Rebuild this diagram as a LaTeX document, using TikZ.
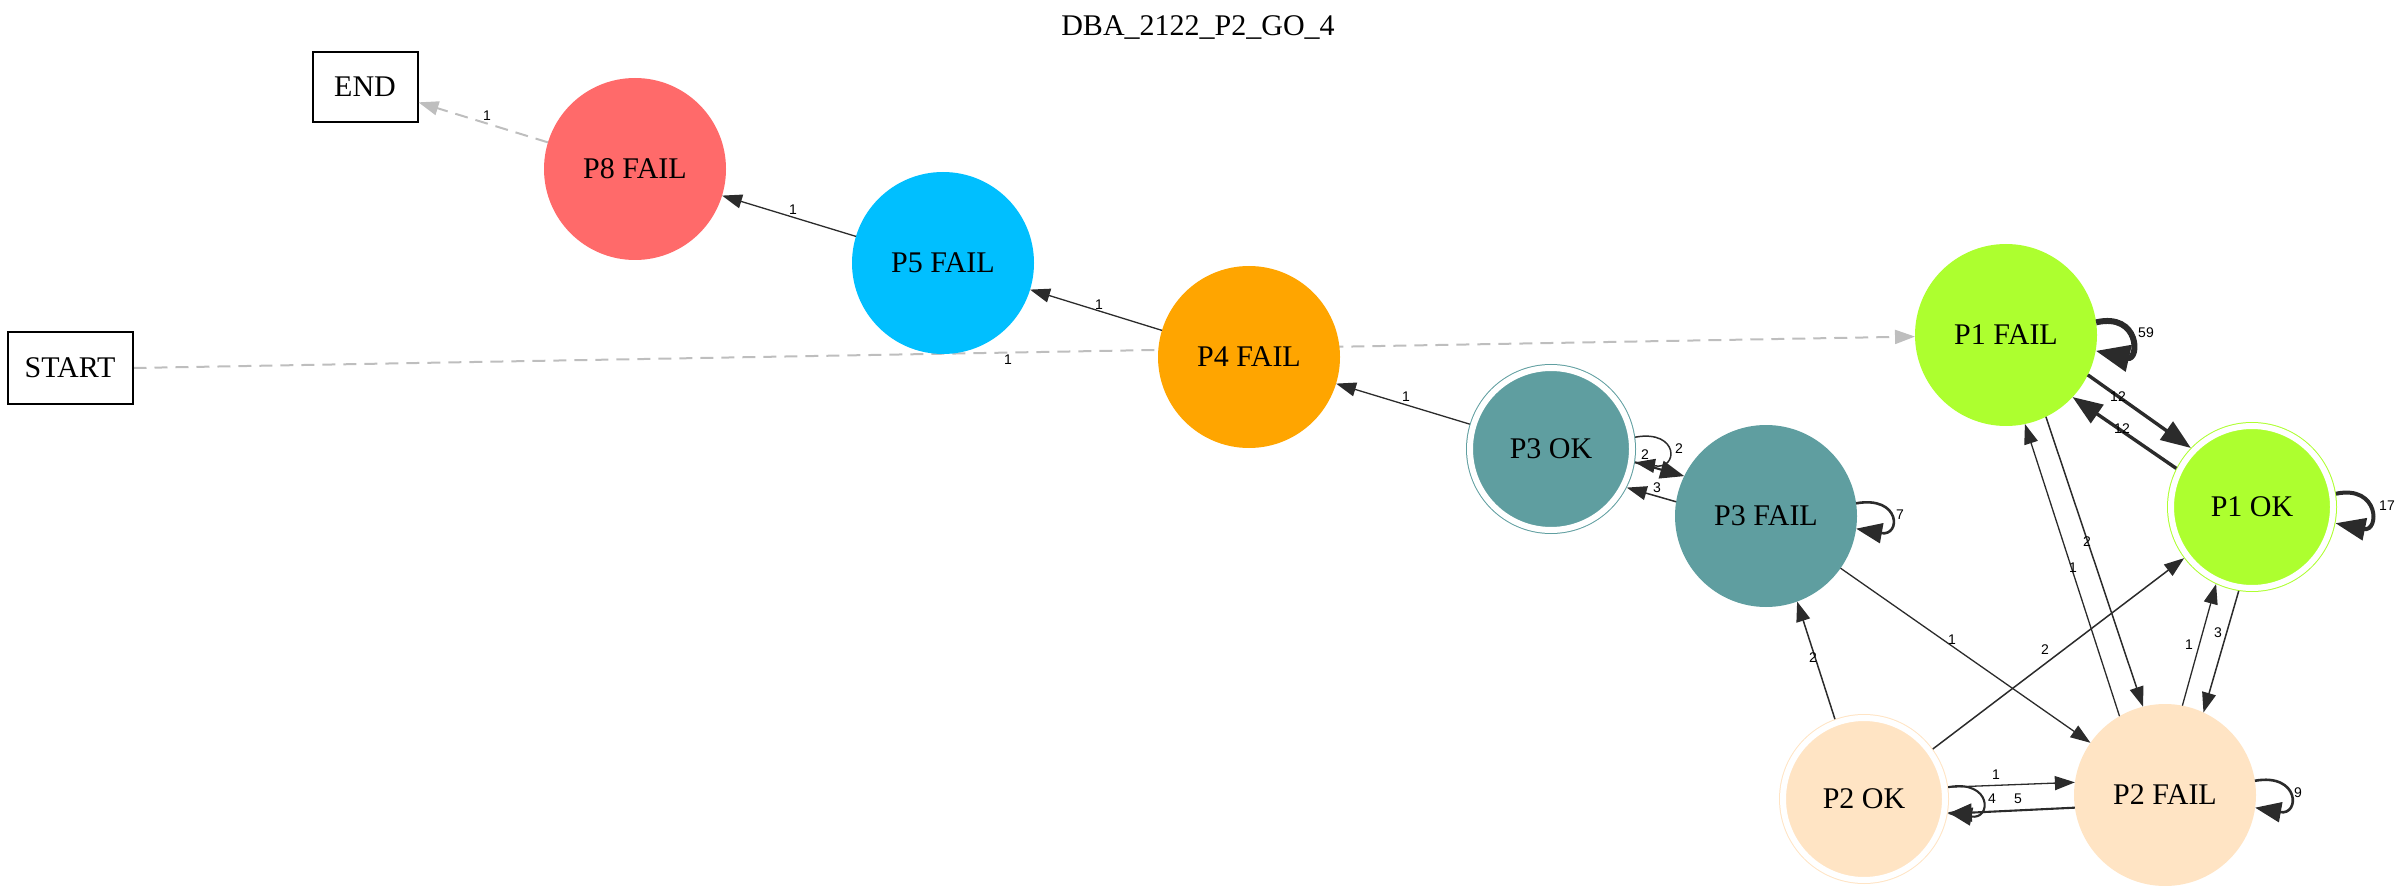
\documentclass[tikz,border=0pt]{standalone}
\usepackage{fontspec}
\setmainfont{Liberation Serif}
\newfontfamily\lblfont{Liberation Sans}
\usetikzlibrary{arrows.meta}
\pgfdeclarelayer{bg}
\pgfsetlayers{bg,main}
\definecolor{edgec}{HTML}{2B2B2B}
\definecolor{dgray}{HTML}{BEBEBE}
\definecolor{cadet}{HTML}{5F9EA0}
\definecolor{gyellow}{HTML}{ADFF2F}
\definecolor{bisq}{HTML}{FFE4C4}
\definecolor{orng}{HTML}{FFA500}
\definecolor{dsky}{HTML}{00BFFF}
\definecolor{ired}{HTML}{FF6A6A}
\begin{document}
\begin{tikzpicture}[x=0.5pt,y=-0.5pt,
  txt/.style={font=\fontsize{15}{18}\selectfont},
  st/.style={txt, circle, inner sep=0pt, outer sep=0pt, minimum size=91pt},
  fin/.style={txt, circle, inner sep=0pt, outer sep=2pt, minimum size=81pt, double=white, double distance=3pt, line width=0.5pt},
  box/.style={txt, rectangle, draw=black, line width=1pt, inner sep=0pt},
  lbl/.style={font=\lblfont\fontsize{7}{8}\selectfont, inner sep=0pt, text=black},
  ea/.style={draw=edgec, line width=0.65pt, -{Triangle[length=10pt,width=7pt]}},
  eb/.style={draw=edgec, line width=0.75pt, -{Triangle[length=10pt,width=7pt]}},
  ec/.style={draw=edgec, line width=1.05pt, -{Triangle[length=12pt,width=9pt]}},
  ed/.style={draw=edgec, line width=1.3pt, -{Triangle[length=13pt,width=10pt]}},
  ee/.style={draw=edgec, line width=1.7pt, -{Triangle[length=15pt,width=11pt]}},
  ef/.style={draw=edgec, line width=2pt, -{Triangle[length=15pt,width=11pt]}},
  eg/.style={draw=edgec, line width=3pt, -{Triangle[length=17pt,width=13pt]}},
  dsh/.style={draw=dgray, line width=1pt, dash pattern=on 6.5pt off 4pt, -{Triangle[length=10pt,width=7pt]}}
]
\useasboundingbox (0,0) rectangle (2400,893);

\node[txt] (title) at (1198,28) {DBA\_2122\_P2\_GO\_4};

\node[box, minimum width=52.5pt, minimum height=35pt] (endn) at (365,87) {END};
\node[box, minimum width=62.5pt, minimum height=35.5pt] (start) at (70,368) {START};

\node[st, fill=ired] (p8) at (635,169) {P8 FAIL};
\node[st, fill=dsky] (p5) at (943,263) {P5 FAIL};
\node[st, fill=orng] (p4) at (1249,357) {P4 FAIL};
\node[fin, fill=cadet, draw=cadet] (p3ok) at (1551,449) {P3 OK};
\node[st, fill=cadet] (p3f) at (1766,516) {P3 FAIL};
\node[st, fill=gyellow] (p1f) at (2006,335) {P1 FAIL};
\node[fin, fill=gyellow, draw=gyellow] (p1ok) at (2252,507) {P1 OK};
\node[fin, fill=bisq, draw=bisq] (p2ok) at (1864,799) {P2 OK};
\node[st, fill=bisq] (p2f) at (2165,795) {P2 FAIL};

% dashed
\begin{pgfonlayer}{bg}
\draw[dsh] (start.east) -- (p1f.181) node[lbl] at (1008,360) {1};
\end{pgfonlayer}
\draw[dsh] (p8.163) -- (endn.-16) node[lbl] at (487,116) {1};

% chain
\draw[ea] (p5.163) -- (p8.-17) node[lbl] at (793,210) {1};
\draw[ea] (p4.163) -- (p5.-17) node[lbl] at (1099,305) {1};
\draw[ea] (p3ok.163) -- (p4.-17) node[lbl] at (1406,397) {1};

% P3
\draw[eb] (p3ok.8) .. controls +(44,-8) and +(44,8) .. (p3ok.-9) node[lbl] at (1679,449) {2};
\draw[ec] (p3ok.-9) -- (p3f.154) node[lbl] at (1645,455) {2};
\draw[eb] (p3f.171) -- (p3ok.-27) node[lbl] at (1657,488) {3};
\draw[ed] (p3f.8) .. controls +(45,-8) and +(45,8) .. (p3f.-8) node[lbl] at (1900,515) {7};
\draw[ea] (p3f.-35) -- (p2f.145) node[lbl] at (1952,640) {1};

% P2
\draw[eb] (p2ok.110) -- (p3f.-70) node[lbl] at (1813,658) {2};
\draw[eb] (p2ok.36) -- (p1ok.-143) node[lbl] at (2045,650) {2};
\draw[ea] (p2ok.8) -- (p2f.172) node[lbl] at (1996,775) {1};
\draw[ec] (p2ok.8) .. controls +(44,-8) and +(44,8) .. (p2ok.-9) node[lbl] at (1992,799) {4};
\draw[ec] (p2f.-172) -- (p2ok.-10) node[lbl] at (2018,799) {5};
\draw[ed] (p2f.9) .. controls +(45,-8) and +(45,8) .. (p2f.-8) node[lbl] at (2298,793) {9};

% P1
\draw[eb] (p1f.-64) -- (p2f.104) node[lbl] at (2087,542) {2};
\draw[ea] (p2f.120) -- (p1f.-78) node[lbl] at (2073,568) {1};
\draw[ea] (p2f.79) -- (p1ok.-115) node[lbl] at (2189,645) {1};
\draw[eb] (p1ok.-99) -- (p2f.65) node[lbl] at (2218,633) {3};
\draw[ee] (p1f.-26) -- (p1ok.136) node[lbl] at (2118,397) {12};
\draw[ee] (p1ok.153) -- (p1f.-43) node[lbl] at (2122,429) {12};
\draw[eg] (p1f.8) .. controls +(44,-10) and +(44,10) .. (p1f.-10) node[lbl] at (2146,333) {59};
\draw[ef] (p1ok.9) .. controls +(44,-9) and +(44,9) .. (p1ok.-11) node[lbl] at (2387,506) {17};
\end{tikzpicture}
\end{document}
